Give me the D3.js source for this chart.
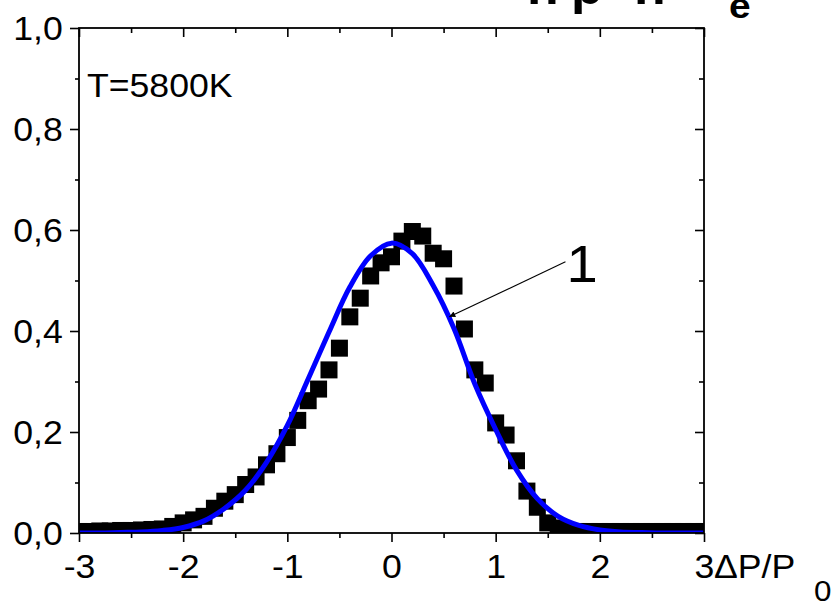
<!DOCTYPE html>
<html><head><meta charset="utf-8">
<script src="https://cdn.jsdelivr.net/npm/d3@7"></script>
<style>
html,body{margin:0;padding:0;background:#fff;}
svg{display:block;font-family:"Liberation Sans",Arial,Helvetica,sans-serif;}
</style></head>
<body>
<svg id="chart" width="836" height="606"></svg>
<script>
// ---- data ----
const xTickValues = [-3, -2, -1, 0, 1, 2, 3];
const yTickValues = [0, 0.2, 0.4, 0.6, 0.8, 1.0];
const xMinorValues = [-2.5, -1.5, -0.5, 0.5, 1.5, 2.5];
const yMinorValues = [0.1, 0.3, 0.5, 0.7, 0.9];

const pointsX = [-3.0,-2.9,-2.8,-2.7,-2.6,-2.5,-2.4,-2.3,-2.2,-2.1,
                 -2.0,-1.9,-1.8,-1.7,-1.6,-1.5,-1.4,-1.3,-1.2,-1.1,
                 -1.0,-0.9,-0.8,-0.7,-0.6,-0.5,-0.4,-0.3,-0.2,-0.1,
                  0.0, 0.1, 0.2, 0.3, 0.4, 0.5, 0.6, 0.7, 0.8, 0.9,
                  1.0, 1.1, 1.2, 1.3, 1.4, 1.5, 1.6, 1.7, 1.8, 1.9,
                  2.0, 2.1, 2.2, 2.3, 2.4, 2.5, 2.6, 2.7, 2.8, 2.9, 3.0];
const pointsY = [0.003,0.003,0.004,0.004,0.005,0.005,0.006,0.007,0.008,0.013,
                 0.020,0.026,0.033,0.049,0.063,0.076,0.096,0.111,0.135,0.157,
                 0.189,0.223,0.262,0.285,0.323,0.366,0.428,0.465,0.509,0.535,
                 0.547,0.578,0.597,0.588,0.554,0.543,0.489,0.404,0.323,0.297,
                 0.218,0.194,0.143,0.083,0.051,0.020,0.010,0.003,0.003,0.003,
                 0.003,0.003,0.003,0.003,0.003,0.003,0.003,0.003,0.003,0.003,0.003];

const curveX = [-3.0,-2.8,-2.6,-2.4,-2.2,-2.0,-1.8,-1.6,-1.4,-1.2,-1.0,-0.8,-0.6,-0.4,-0.2,
                 0.0, 0.2, 0.4, 0.6, 0.8, 1.0, 1.2, 1.4, 1.6, 1.8, 2.0, 2.2, 2.4, 2.6, 2.8, 3.0];
const curveY = [0.000,0.000,0.001,0.002,0.005,0.011,0.024,0.049,0.085,0.140,0.213,0.305,0.398,0.487,0.549,
                0.574,0.553,0.490,0.405,0.295,0.205,0.125,0.068,0.033,0.015,0.006,0.002,0.001,0.000,0.000,0.000];

const tempLabel = "T=5800K";
const curveLabel = "1";

// ---- layout ----
const svg = d3.select("#chart");
const L = 79, R = 704, T = 28, B = 533;
const x = d3.scaleLinear().domain([-3, 3]).range([L, R]);
const y = d3.scaleLinear().domain([0, 1]).range([B, T]);
const SX = 1.08; // horizontal text stretch seen in reference
const FS = 33;
const fmt = v => d3.format(".1f")(v).replace(".", ",");

svg.append("defs").append("clipPath").attr("id", "plotclip")
  .append("rect").attr("x", L).attr("y", T).attr("width", R - L).attr("height", B - T);

const plot = svg.append("g").attr("clip-path", "url(#plotclip)");

// squares
const S = 17;
plot.selectAll("rect.pt").data(pointsX.map((d, i) => [d, pointsY[i]]))
  .enter().append("rect").attr("class", "pt")
  .attr("x", d => x(d[0]) - S / 2).attr("y", d => y(d[1]) - S / 2)
  .attr("width", S).attr("height", S).attr("fill", "#000");

// blue curve
const line = d3.line().x(d => x(d[0])).y(d => y(d[1])).curve(d3.curveCatmullRom.alpha(0.5));
plot.append("path").datum(curveX.map((d, i) => [d, curveY[i]]))
  .attr("d", line).attr("fill", "none").attr("stroke", "#0000ff")
  .attr("stroke-width", 5).attr("stroke-linejoin", "round");

// ---- axes ----
function styleAxis(g) {
  g.select(".domain").remove();
  g.selectAll(".tick line").attr("stroke", "#000").attr("stroke-width", 1.6);
}
// bottom
const gx = svg.append("g").attr("transform", `translate(0,${B})`)
  .call(d3.axisBottom(x).tickValues(xTickValues).tickSize(9).tickFormat(d => String(d)));
styleAxis(gx);
gx.selectAll(".tick text").attr("y", 45).attr("dy", 0).attr("font-size", FS)
  .attr("fill", "#000").attr("transform", `scale(${SX},1)`);
const gxm = svg.append("g").attr("transform", `translate(0,${B})`)
  .call(d3.axisBottom(x).tickValues(xMinorValues).tickSize(5).tickFormat(""));
styleAxis(gxm);
// top
const gt = svg.append("g").attr("transform", `translate(0,${T})`)
  .call(d3.axisBottom(x).tickValues(xTickValues).tickSize(9).tickFormat(""));
styleAxis(gt);
const gtm = svg.append("g").attr("transform", `translate(0,${T})`)
  .call(d3.axisBottom(x).tickValues(xMinorValues).tickSize(5).tickFormat(""));
styleAxis(gtm);
// left
const gy = svg.append("g").attr("transform", `translate(${L},0)`)
  .call(d3.axisLeft(y).tickValues(yTickValues).tickSize(9).tickFormat(fmt));
styleAxis(gy);
gy.selectAll(".tick text").attr("x", -15).attr("dy", "0.36em").attr("font-size", FS)
  .attr("fill", "#000").attr("transform", `scale(${SX},1)`);
const gym = svg.append("g").attr("transform", `translate(${L},0)`)
  .call(d3.axisLeft(y).tickValues(yMinorValues).tickSize(4).tickFormat(""));
styleAxis(gym);
// right
const gr = svg.append("g").attr("transform", `translate(${R},0)`)
  .call(d3.axisLeft(y).tickValues(yTickValues).tickSize(9).tickFormat(""));
styleAxis(gr);
const grm = svg.append("g").attr("transform", `translate(${R},0)`)
  .call(d3.axisLeft(y).tickValues(yMinorValues).tickSize(5).tickFormat(""));
styleAxis(grm);

// frame
svg.append("rect").attr("x", L).attr("y", T).attr("width", R - L).attr("height", B - T)
  .attr("fill", "none").attr("stroke", "#000").attr("stroke-width", 1.8);

// ---- texts ----
function stretchedText(px, py, str, size, weight) {
  return svg.append("g").attr("transform", `translate(${px},${py}) scale(${SX},1)`)
    .append("text").attr("x", 0).attr("y", 0).attr("font-size", size)
    .attr("font-weight", weight || "normal").attr("fill", "#000").text(str);
}
stretchedText(87, 97, tempLabel, FS);
// axis title ΔP/P0
stretchedText(714, 578, "ΔP/P", FS);
stretchedText(814, 601, "0", 29);

// annotation arrow
const defs = svg.select("defs");
defs.append("marker").attr("id", "arrow").attr("viewBox", "0 0 10 10")
  .attr("refX", 10).attr("refY", 5).attr("markerWidth", 9).attr("markerHeight", 6)
  .attr("markerUnits", "userSpaceOnUse").attr("orient", "auto")
  .append("path").attr("d", "M0,0 L10,5 L0,10 Z").attr("fill", "#000");
svg.append("line").attr("x1", x(1.67)).attr("y1", y(0.537)).attr("x2", x(0.555)).attr("y2", y(0.428))
  .attr("stroke", "#000").attr("stroke-width", 1.1).attr("marker-end", "url(#arrow)");
stretchedText(x(1.67) + 1, y(0.497), curveLabel, 52);

// cropped title at top (only lower parts visible)
stretchedText(527, 4, "n", 48, "bold");
stretchedText(571, 4, "p", 48, "bold");
stretchedText(634, 4, "n", 48, "bold");
stretchedText(729, 18, "e", 36, "bold");
</script>
</body></html>
